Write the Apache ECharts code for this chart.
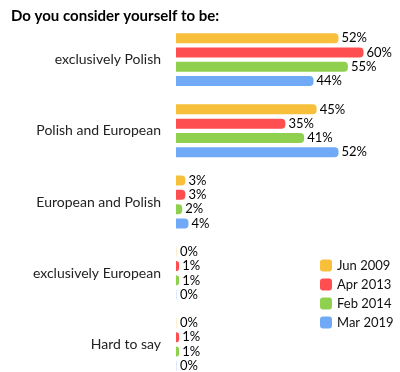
<!DOCTYPE html>
<html><head><meta charset="utf-8">
<script src="https://cdn.jsdelivr.net/npm/echarts@6/dist/echarts.min.js"></script>
<style>html,body{margin:0;padding:0;background:#fff}#c{width:400px;height:372px}</style>
</head><body><div id="c"></div>
<script>
const categories = ["exclusively Polish","Polish and European","European and Polish","exclusively European","Hard to say"];
const seriesNames = ["Jun 2009","Apr 2013","Feb 2014","Mar 2019"];
const jun2009 = [52,45,3,0,0];
const apr2013 = [60,35,3,1,1];
const feb2014 = [55,41,2,1,1];
const mar2019 = [44,52,4,0,0];
const colors = ["#F8BF3B","#FF4E50","#8FD14F","#70A9F5"];
const values = [jun2009, apr2013, feb2014, mar2019];
const font = "Lato, sans-serif";
const chart = echarts.init(document.getElementById('c'), null, {renderer:'canvas'});
chart.setOption({
  animation:false,
  title:{text:"Do you consider yourself to be:", left:6, top:4,
    textStyle:{fontFamily:font, fontSize:15, fontWeight:'bold', color:'#000'}},
  legend:{orient:'vertical', left:315, top:254, itemWidth:12, itemHeight:12, itemGap:6,
    icon:'roundRect', data:seriesNames,
    textStyle:{fontFamily:font, fontSize:13, color:'#111'}},
  grid:{left:176, top:24, width:200, height:356, containLabel:false, outerBoundsMode:'none'},
  xAxis:{type:'value', min:0, max:64, show:false},
  yAxis:{type:'category', data:categories, inverse:true,
    axisLine:{show:false}, axisTick:{show:false},
    axisLabel:{margin:15, fontFamily:font, fontSize:14, color:'#222'}},
  series: seriesNames.map((n,i)=>({
    name:n, type:'bar', barWidth:10, barGap:'43%', barMinHeight:1,
    data:values[i].map(v => v === 0 ? {value:v, itemStyle:{opacity:0.25}} : v),
    itemStyle:{color:colors[i], borderRadius:[0,4,4,0]},
    label:{show:true, position:'right', distance:3, formatter:'{c}%',
      fontFamily:font, fontSize:13, color:'#000', opacity:1}
  }))
});
</script></body></html>
